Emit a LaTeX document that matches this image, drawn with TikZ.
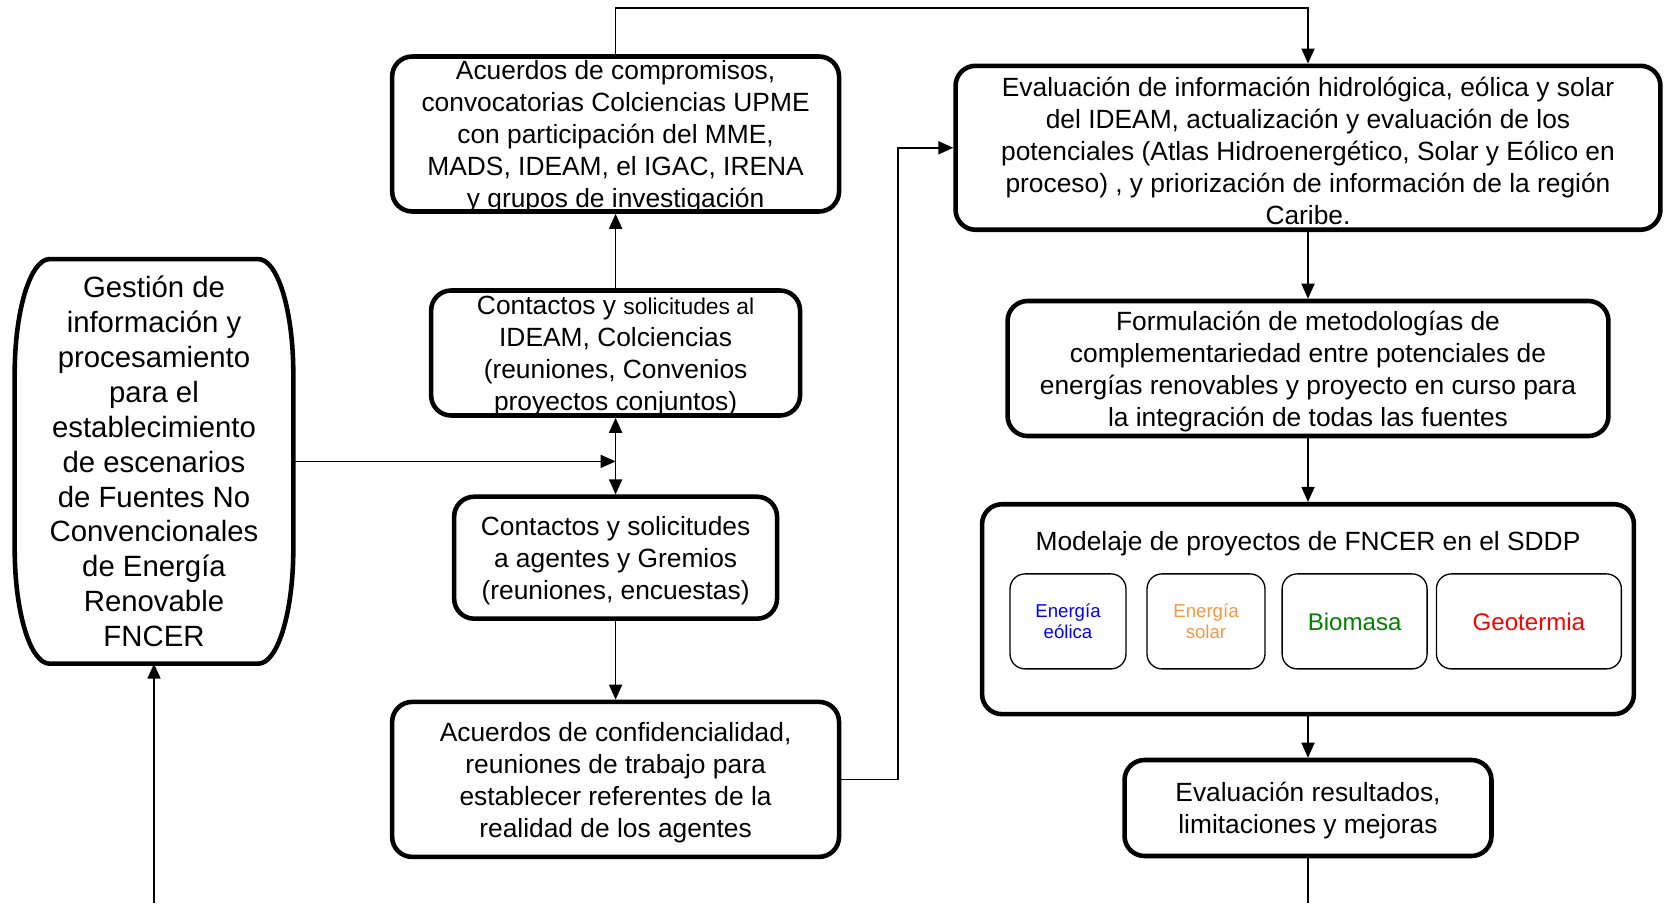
\documentclass[tikz,border=0pt]{standalone}
\usepackage{fontspec}
\setmainfont{Liberation Sans}
\usepackage{xcolor}
\usetikzlibrary{arrows.meta,calc}
\newcommand{\boxfont}{\fontsize{15}{18.2}\selectfont}
\newcommand{\bigboxfont}{\fontsize{16.7}{19.9}\selectfont}
\newcommand{\smallboxfont}{\fontsize{10.6}{12}\selectfont}
\newcommand{\midboxfont}{\fontsize{13.7}{16}\selectfont}
\newcommand{\topgap}{\rule{0pt}{14.4pt}}
\definecolor{solarorange}{RGB}{247,150,70}
\definecolor{biogreen}{RGB}{0,128,0}
\tikzset{
    stepbox/.style={draw, line width=2.6pt, rounded corners=0.4cm, align=center,
        inner xsep=4pt, inner ysep=1pt, font=\boxfont},
    subbox/.style={draw, line width=0.75pt, rounded corners=0.3cm, align=center,
        minimum height=1.9cm},
    link/.style={line width=1pt},
}

\begin{document}
\begin{tikzpicture}[x=0.02cm, y=0.02cm, >={Triangle[length=0.3cm,width=0.26cm]}]
    \useasboundingbox (0,0) rectangle (1667,903);
    % left column
    \node[align=center, font=\bigboxfont, minimum width=5.56cm, minimum height=8.08cm, inner sep=0pt] (gestion) at (154,441.6)
        {Gestión de\\información y\\procesamiento\\para el\\establecimiento\\de escenarios\\de Fuentes No\\Convencionales\\de Energía\\Renovable\\FNCER};
    \draw[line width=2.6pt]
        ($(gestion.north west)+(35,0)$) -- ($(gestion.north east)+(-35,0)$)
        arc[start angle=90, end angle=0, x radius=0.7cm, y radius=2.3cm]
        -- ($(gestion.south east)+(0,115)$)
        arc[start angle=0, end angle=-90, x radius=0.7cm, y radius=2.3cm]
        -- ($(gestion.south west)+(35,0)$)
        arc[start angle=270, end angle=180, x radius=0.7cm, y radius=2.3cm]
        -- ($(gestion.north west)+(0,-115)$)
        arc[start angle=180, end angle=90, x radius=0.7cm, y radius=2.3cm]
        -- cycle;

    \node[stepbox, inner ysep=-1.5pt, minimum width=8.94cm, minimum height=3.1cm] (compromisos) at (615.6,769)
        {\topgap Acuerdos de compromisos,\\convocatorias Colciencias UPME\\con participación del MME,\\MADS, IDEAM, el IGAC, IRENA\\y grupos de investigación};
    \node[stepbox, inner ysep=-1.5pt, minimum width=7.38cm, minimum height=2.5cm] (contactos) at (615.6,550)
        {\topgap Contactos y {\fontsize{13}{18.2}\selectfont solicitudes al}\\IDEAM, Colciencias\\(reuniones, Convenios\\proyectos conjuntos)};
    \node[stepbox, minimum width=6.46cm, minimum height=2.44cm] (gremios) at (615.6,345.3)
        {\topgap Contactos y solicitudes\\a agentes y Gremios\\(reuniones, encuestas)};
    \node[stepbox, minimum width=8.94cm, minimum height=3.1cm] (confid) at (615.6,123.6)
        {\topgap Acuerdos de confidencialidad,\\reuniones de trabajo para\\establecer referentes de la\\realidad de los agentes};

    % right column
    \node[stepbox, minimum width=14.1cm, minimum height=3.28cm] (evaluacion) at (1308,755.2)
        {\topgap Evaluación de información hidrológica, eólica y solar\\del IDEAM, actualización y evaluación de los\\potenciales (Atlas Hidroenergético, Solar y Eólico en\\proceso) , y priorización de información de la región\\Caribe.};
    \node[stepbox, minimum width=12.02cm, minimum height=2.7cm] (formulacion) at (1308,534.5)
        {\topgap Formulación de metodologías de\\complementariedad entre potenciales de\\energías renovables y proyecto en curso para\\la integración de todas las fuentes};
    \node[stepbox, minimum width=13.04cm, minimum height=4.2cm] (modelaje) at (1308,293.8) {};
    \node[font=\boxfont] (modtitulo) at (1308,359) {Modelaje de proyectos de FNCER en el SDDP};
    \node[subbox, minimum width=2.32cm, text=blue, font=\smallboxfont] (eolica) at (1068,281.6) {Energía\\eólica};
    \node[subbox, minimum width=2.36cm, text=solarorange, font=\smallboxfont] (solar) at (1206,281.6) {Energía\\solar};
    \node[subbox, minimum width=2.9cm, text=biogreen, font=\midboxfont] (biomasa) at (1354.6,281.6) {Biomasa};
    \node[subbox, minimum width=3.7cm, text=red, font=\midboxfont] (geotermia) at (1528.9,281.6) {Geotermia};
    \node[stepbox, minimum width=7.34cm, minimum height=1.92cm] (resultados) at (1308,95)
        {\topgap Evaluación resultados,\\limitaciones y mejoras};

    % connectors
    \coordinate (cruce) at (615.6,441.6);
    \coordinate (entrada) at (154,0);
    \coordinate (salida) at (1308,0);
    \draw[link,->] (entrada) -- (gestion.south);
    \draw[link,->] (gestion.east) -- (cruce);
    \draw[link,<->] (contactos.south) -- (gremios.north);
    \draw[link,->] (contactos.north) -- (compromisos.south);
    \draw[link,->] (gremios.south) -- (confid.north);
    \draw[link,->] (compromisos.north) -- ++(0,46) -| (evaluacion.north);
    \draw[link,->] (confid.east) -- ++(57,0) |- (evaluacion.west);
    \draw[link,->] (evaluacion.south) -- (formulacion.north);
    \draw[link,->] (formulacion.south) -- (modelaje.north);
    \draw[link,->] (modelaje.south) -- (resultados.north);
    \draw[link] (resultados.south) -- (salida);
\end{tikzpicture}
\end{document}
